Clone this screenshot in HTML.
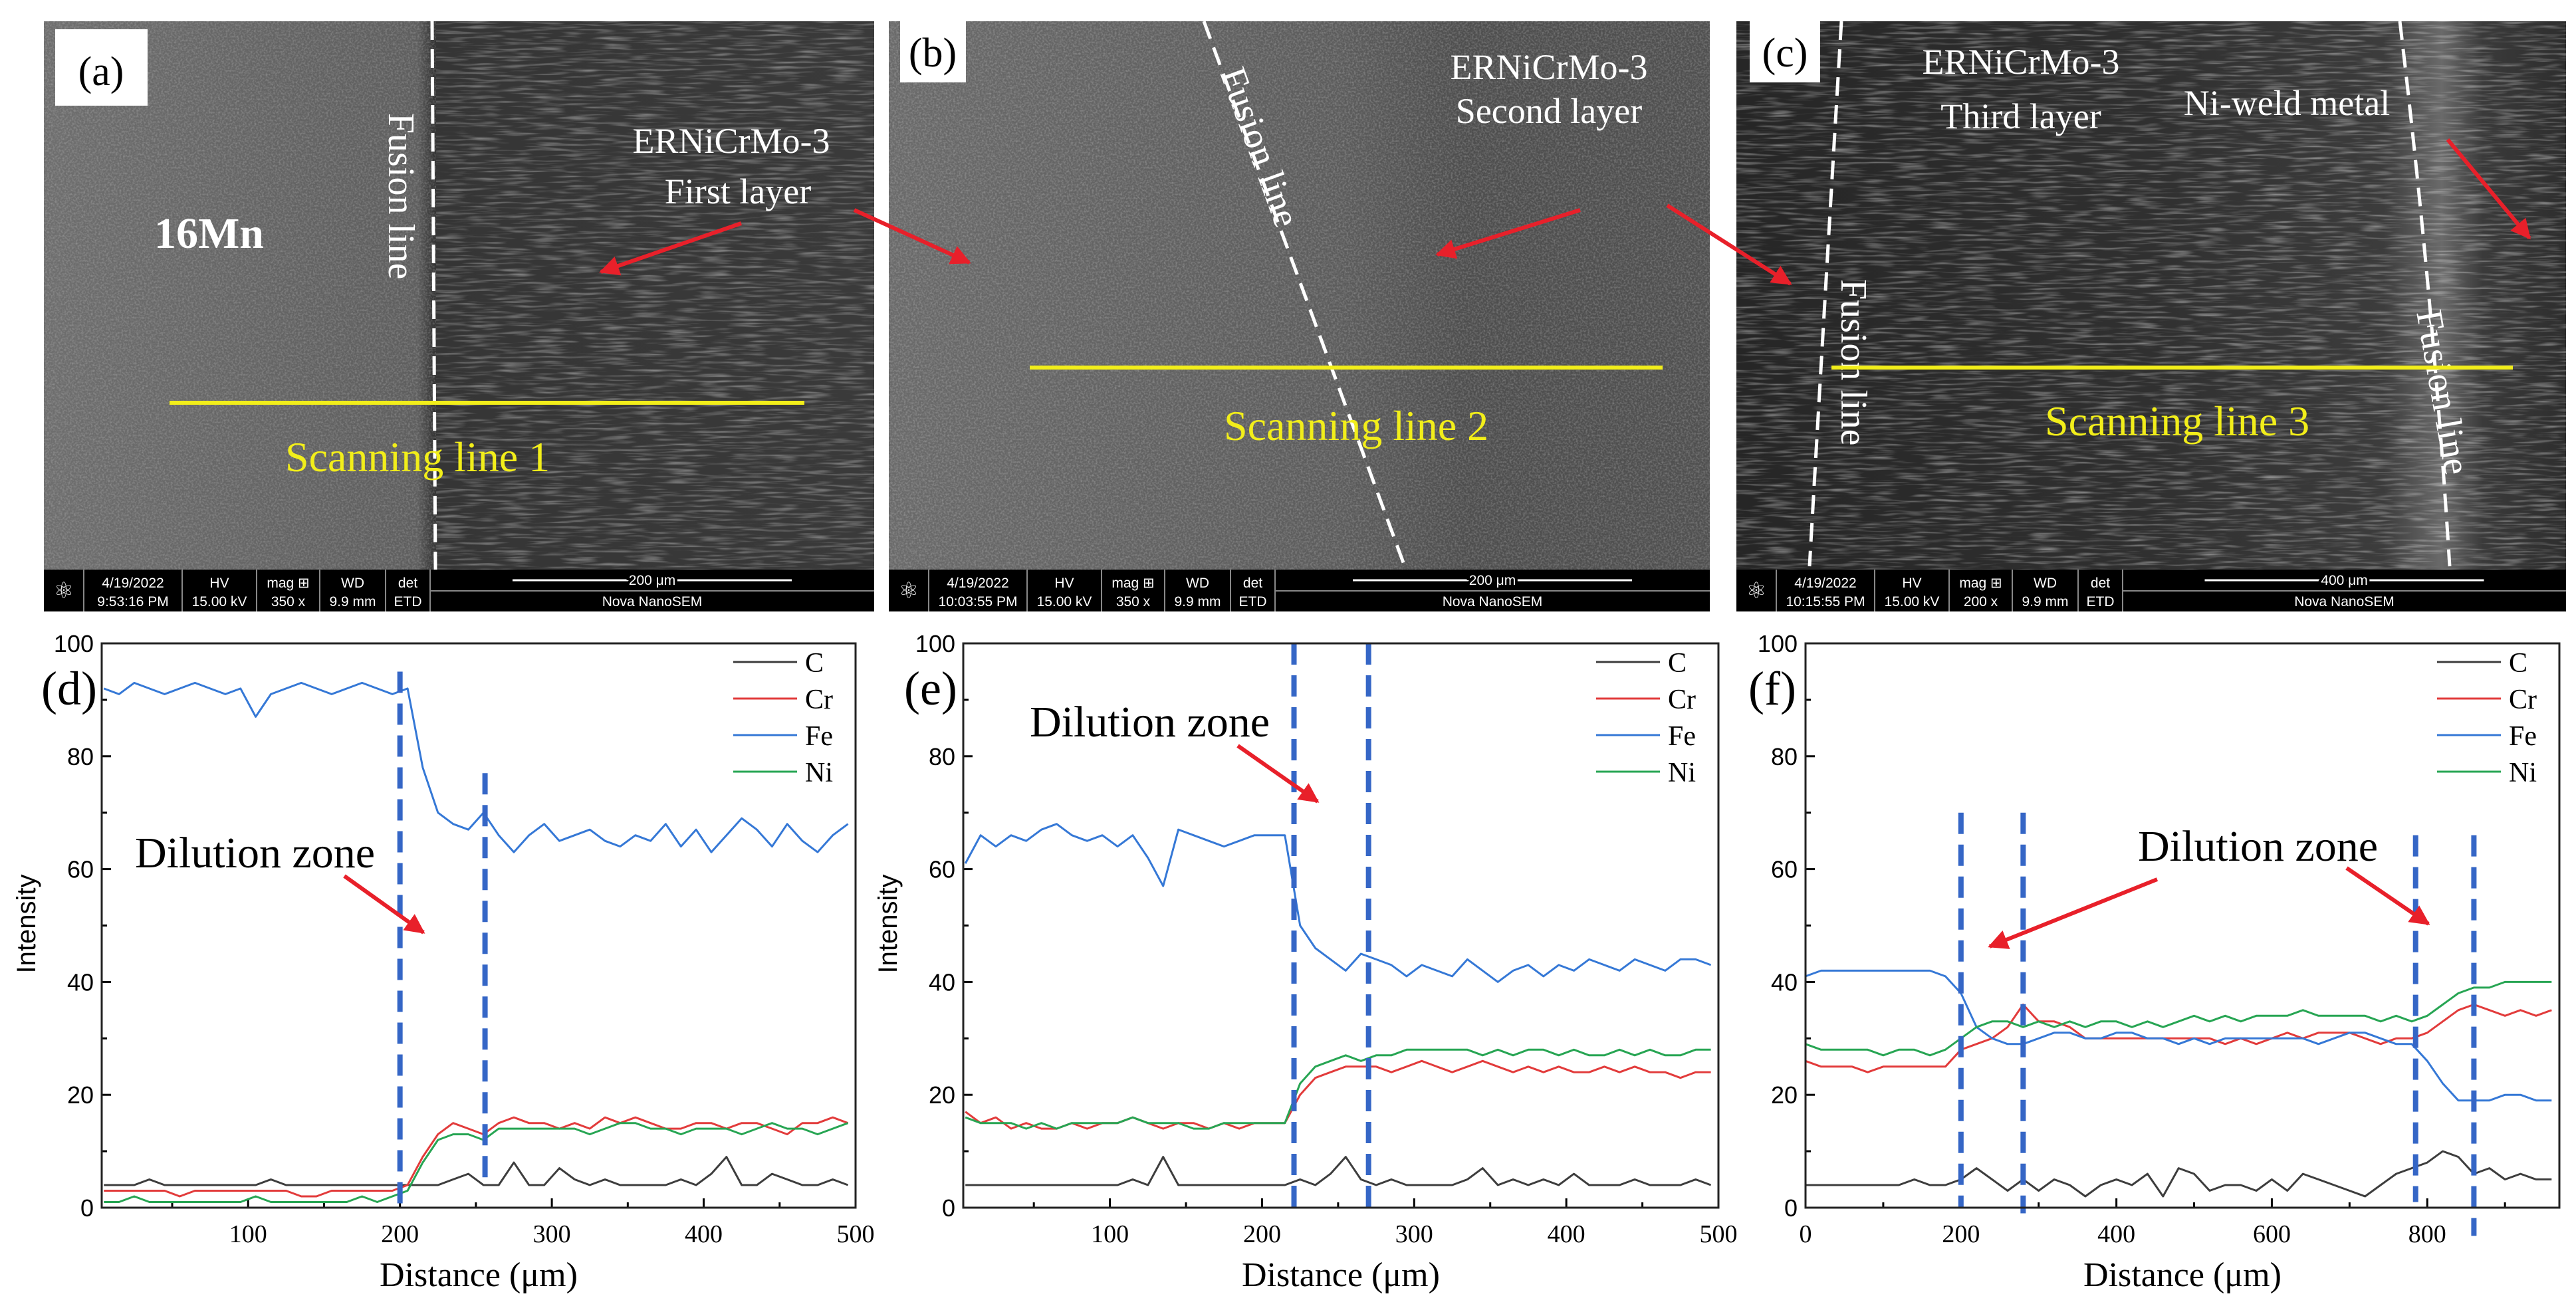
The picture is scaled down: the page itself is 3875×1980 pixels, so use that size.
<!DOCTYPE html>
<html><head><meta charset="utf-8">
<style>
html,body{margin:0;padding:0;background:#fff;}
svg{display:block;}
.serif{font-family:"Liberation Serif",serif;}
.sans{font-family:"Liberation Sans",sans-serif;}
</style></head>
<body>
<svg id="fig" width="3875" height="1980" viewBox="0 0 3875 1980" xmlns="http://www.w3.org/2000/svg">
<defs>
  <filter id="grain" x="0" y="0" width="100%" height="100%">
    <feTurbulence type="fractalNoise" baseFrequency="0.35" numOctaves="2" seed="3"/>
    <feColorMatrix type="matrix" values="0 0 0 0 1  0 0 0 0 1  0 0 0 0 1  0 0 0 0.9 -0.35"/>
  </filter>
  <filter id="streak" x="0" y="0" width="100%" height="100%">
    <feTurbulence type="fractalNoise" baseFrequency="0.02 0.25" numOctaves="2" seed="7"/>
    <feColorMatrix type="matrix" values="0 0 0 0 1  0 0 0 0 1  0 0 0 0 1  0 0 0 1.6 -0.75"/>
  </filter>
  <linearGradient id="gA" x1="0" x2="1" y1="0" y2="0">
    <stop offset="0" stop-color="#6e6e6e"/><stop offset="0.45" stop-color="#5e5e5e"/>
    <stop offset="0.47" stop-color="#353535"/><stop offset="1" stop-color="#3a3a3a"/>
  </linearGradient>
  <linearGradient id="gB" x1="0" x2="1" y1="0" y2="0">
    <stop offset="0" stop-color="#6a6a6a"/><stop offset="0.55" stop-color="#5c5c5c"/>
    <stop offset="0.7" stop-color="#4e4e4e"/><stop offset="1" stop-color="#505050"/>
  </linearGradient>
  <linearGradient id="gC" x1="0" x2="1" y1="0" y2="0">
    <stop offset="0" stop-color="#262626"/><stop offset="0.5" stop-color="#303030"/>
    <stop offset="0.78" stop-color="#3c3c3c"/><stop offset="0.85" stop-color="#6a6a6a"/>
    <stop offset="0.9" stop-color="#3a3a3a"/><stop offset="1" stop-color="#2e2e2e"/>
  </linearGradient>
  <marker id="ah" viewBox="0 0 10 10" refX="9" refY="5" markerWidth="5" markerHeight="5" orient="auto-start-reverse">
    <path d="M0,0 L10,5 L0,10 z" fill="#e8202a"/>
  </marker>
</defs>

<!-- Panel a -->
<g>
  <rect x="66" y="32" width="1249" height="825" fill="url(#gA)"/>
  <rect x="66" y="32" width="590" height="825" filter="url(#grain)" opacity="0.5"/>
  <rect x="656" y="32" width="659" height="825" filter="url(#streak)" opacity="0.55"/>
  <rect x="83" y="44" width="139" height="115" fill="#fff"/>
  <text x="152" y="128" class="serif" font-size="62" text-anchor="middle">(a)</text>
  <line x1="650" y1="32" x2="655" y2="857" stroke="#fff" stroke-width="5" stroke-dasharray="28,14"/>
  <text transform="translate(585,170) rotate(90)" class="serif" font-size="56" fill="#fff">Fusion line</text>
  <text x="232" y="373" class="serif" font-size="66" font-weight="bold" fill="#fff">16Mn</text>
  <text x="1100" y="230" class="serif" font-size="54" fill="#fff" text-anchor="middle">ERNiCrMo-3</text>
  <text x="1110" y="306" class="serif" font-size="54" fill="#fff" text-anchor="middle">First layer</text>
  <line x1="1115" y1="336" x2="904" y2="409" stroke="#e8202a" stroke-width="6" marker-end="url(#ah)"/>
  <line x1="255" y1="606" x2="1210" y2="606" stroke="#f2ee1a" stroke-width="6"/>
  <text x="429" y="709" class="serif" font-size="64" fill="#f2ee1a">Scanning line 1</text>
</g>
<!-- Panel b -->
<g>
  <rect x="1337" y="32" width="1235" height="825" fill="url(#gB)"/>
  <rect x="1337" y="32" width="1235" height="825" filter="url(#grain)" opacity="0.55"/>
  <rect x="1354" y="30" width="99" height="94" fill="#fff"/>
  <text x="1403" y="100" class="serif" font-size="62" text-anchor="middle">(b)</text>
  <line x1="1811" y1="32" x2="2113" y2="852" stroke="#fff" stroke-width="5" stroke-dasharray="28,14"/>
  <text transform="translate(1835,110) rotate(70)" class="serif" font-size="56" fill="#fff">Fusion line</text>
  <text x="2330" y="119" class="serif" font-size="54" fill="#fff" text-anchor="middle">ERNiCrMo-3</text>
  <text x="2330" y="185" class="serif" font-size="54" fill="#fff" text-anchor="middle">Second layer</text>
  <line x1="2377" y1="316" x2="2162" y2="383" stroke="#e8202a" stroke-width="6" marker-end="url(#ah)"/>
  <line x1="1549" y1="553" x2="2501" y2="553" stroke="#f2ee1a" stroke-width="6"/>
  <text x="1841" y="662" class="serif" font-size="64" fill="#f2ee1a">Scanning line 2</text>
</g>
<!-- Panel c -->
<g>
  <rect x="2612" y="32" width="1248" height="825" fill="url(#gC)"/>
  <rect x="2612" y="32" width="1248" height="825" filter="url(#streak)" opacity="0.6"/>
  <rect x="2632" y="30" width="106" height="94" fill="#fff"/>
  <text x="2685" y="100" class="serif" font-size="62" text-anchor="middle">(c)</text>
  <path d="M2770,32 Q2745,450 2722,852" fill="none" stroke="#fff" stroke-width="5" stroke-dasharray="28,14"/>
  <text transform="translate(2770,420) rotate(90)" class="serif" font-size="56" fill="#fff">Fusion line</text>
  <path d="M3610,32 Q3660,450 3685,852" fill="none" stroke="#fff" stroke-width="5" stroke-dasharray="28,14"/>
  <text transform="translate(3635,470) rotate(80)" class="serif" font-size="56" fill="#fff">Fusion line</text>
  <text x="3040" y="111" class="serif" font-size="54" fill="#fff" text-anchor="middle">ERNiCrMo-3</text>
  <text x="3040" y="193" class="serif" font-size="54" fill="#fff" text-anchor="middle">Third layer</text>
  <text x="3440" y="173" class="serif" font-size="54" fill="#fff" text-anchor="middle">Ni-weld metal</text>
  <line x1="3682" y1="210" x2="3805" y2="358" stroke="#e8202a" stroke-width="6" marker-end="url(#ah)"/>
  <line x1="2755" y1="553" x2="3780" y2="553" stroke="#f2ee1a" stroke-width="6"/>
  <text x="3076" y="655" class="serif" font-size="64" fill="#f2ee1a">Scanning line 3</text>
</g>
<line x1="1285" y1="316" x2="1458" y2="395" stroke="#e8202a" stroke-width="6" marker-end="url(#ah)"/>
<line x1="2508" y1="309" x2="2693" y2="427" stroke="#e8202a" stroke-width="6" marker-end="url(#ah)"/>
<g id="infobars"></g>
<g id="charts"></g>
</svg>

<script>
// ---------- chart data ----------
const yTicks = [0, 20, 40, 60, 80, 100];
const dXTicks = [100, 200, 300, 400, 500];
const eXTicks = [100, 200, 300, 400, 500];
const fXTicks = [0, 200, 400, 600, 800];
const legendNames = ["C", "Cr", "Fe", "Ni"];

const dX = [5,15,25,35,45,55,65,75,85,95,105,115,125,135,145,155,165,175,185,195,205,215,225,235,245,255,265,275,285,295,305,315,325,335,345,355,365,375,385,395,405,415,425,435,445,455,465,475,485,495];
const dFe = [92,91,93,92,91,92,93,92,91,92,87,91,92,93,92,91,92,93,92,91,92,78,70,68,67,70,66,63,66,68,65,66,67,65,64,66,65,68,64,67,63,66,69,67,64,68,65,63,66,68];
const dCr = [3,3,3,3,3,2,3,3,3,3,3,3,3,2,2,3,3,3,3,3,4,9,13,15,14,13,15,16,15,15,14,15,14,16,15,16,15,14,14,15,15,14,15,15,14,13,15,15,16,15];
const dNi = [1,1,2,1,1,1,1,1,1,1,2,1,1,1,1,1,1,2,1,2,3,8,12,13,13,12,14,14,14,14,14,14,13,14,15,15,14,14,13,14,14,14,13,14,15,14,14,13,14,15];
const dC = [4,4,4,5,4,4,4,4,4,4,4,5,4,4,4,4,4,4,4,4,4,4,4,5,6,4,4,8,4,4,7,5,4,5,4,4,4,4,5,4,6,9,4,4,6,5,4,4,5,4];
const dDash = [200, 256];

const eX = [5,15,25,35,45,55,65,75,85,95,105,115,125,135,145,155,165,175,185,195,205,215,225,235,245,255,265,275,285,295,305,315,325,335,345,355,365,375,385,395,405,415,425,435,445,455,465,475,485,495];
const eFe = [61,66,64,66,65,67,68,66,65,66,64,66,62,57,67,66,65,64,65,66,66,66,50,46,44,42,45,44,43,41,43,42,41,44,42,40,42,43,41,43,42,44,43,42,44,43,42,44,44,43];
const eCr = [17,15,16,14,15,14,14,15,14,15,15,16,15,14,15,15,14,15,14,15,15,15,20,23,24,25,25,25,24,25,26,25,24,25,26,25,24,25,24,25,24,24,25,24,25,24,24,23,24,24];
const eNi = [16,15,15,15,14,15,14,15,15,15,15,16,15,15,15,14,14,15,15,15,15,15,22,25,26,27,26,27,27,28,28,28,28,28,27,28,27,28,28,27,28,27,27,28,27,28,27,27,28,28];
const eC = [4,4,4,4,4,4,4,4,4,4,4,5,4,9,4,4,4,4,4,4,4,4,5,4,6,9,5,4,5,4,4,4,4,5,7,4,5,4,5,4,6,4,4,4,5,4,4,4,5,4];
const eDash = [221, 270];

const fX = [0,20,40,60,80,100,120,140,160,180,200,220,240,260,280,300,320,340,360,380,400,420,440,460,480,500,520,540,560,580,600,620,640,660,680,700,720,740,760,780,800,820,840,860,880,900,920,940,960];
const fFe = [41,42,42,42,42,42,42,42,42,41,38,32,30,29,29,30,31,31,30,30,31,31,30,30,29,30,29,30,30,30,30,30,30,29,30,31,31,30,29,29,26,22,19,19,19,20,20,19,19];
const fCr = [26,25,25,25,24,25,25,25,25,25,28,29,30,32,36,33,33,32,30,30,30,30,30,30,30,30,30,29,30,29,30,31,30,31,31,31,30,29,30,30,31,33,35,36,35,34,35,34,35];
const fNi = [29,28,28,28,28,27,28,28,27,28,30,32,33,33,32,33,32,33,32,33,33,32,33,32,33,34,33,34,33,34,34,34,35,34,34,34,34,33,34,33,34,36,38,39,39,40,40,40,40];
const fC = [4,4,4,4,4,4,4,5,4,4,5,7,5,3,5,3,5,4,2,4,5,4,6,2,7,6,3,4,4,3,5,3,6,5,4,3,2,4,6,7,8,10,9,6,7,5,6,5,5];
const fDash = [200, 280, 785, 860];

// ---------- layout (not data) ----------
const NS = "http://www.w3.org/2000/svg";
const COLORS = {C:"#3d3d3d", Cr:"#e23b3b", Fe:"#3578d6", Ni:"#27a553"};
const TOP = 968, BOTTOM = 1817;

function mk(tag, attrs, parent){
  const el = document.createElementNS(NS, tag);
  for (const k in attrs) el.setAttribute(k, attrs[k]);
  parent.appendChild(el);
  return el;
}

function drawChart(cfg){
  const root = document.getElementById("charts");
  const g = mk("g", {}, root);
  
  
  const sx = v => cfg.left + (v - cfg.xmin) / (cfg.xmax - cfg.xmin) * (cfg.right - cfg.left);
  const sy = v => BOTTOM - v / 100 * (BOTTOM - TOP);

  // y ticks
  yTicks.forEach(t => {
    const tk = mk("line", {x1:cfg.left, x2:cfg.left+14, y1:sy(t), y2:sy(t), stroke:"#000", "stroke-width":3}, g);
    
    
    if (t < 100) {
      const mn = mk("line", {x1:cfg.left, x2:cfg.left+8, y1:sy(t+10), y2:sy(t+10), stroke:"#000", "stroke-width":3}, g);
      
      
    }
    const lb = mk("text", {x:cfg.left-12, y:sy(t)+13, "text-anchor":"end", "font-size":36, "font-family":"Liberation Sans, sans-serif"}, g);
    lb.textContent = t;
    
    
  });
  // x ticks
  cfg.xTicks.forEach(t => {
    const tk = mk("line", {x1:sx(t), x2:sx(t), y1:BOTTOM, y2:BOTTOM-14, stroke:"#000", "stroke-width":3}, g);
    
    
    const m = t - cfg.minorStep;
    if (m > cfg.xmin) {
      const mn = mk("line", {x1:sx(m), x2:sx(m), y1:BOTTOM, y2:BOTTOM-8, stroke:"#000", "stroke-width":3}, g);
      
      
    }
    const lb = mk("text", {x:sx(t), y:BOTTOM+52, "text-anchor":"middle", "font-size":38, "font-family":"Liberation Serif, serif"}, g);
    lb.textContent = t;
    
    
  });
  const m2 = cfg.xTicks[cfg.xTicks.length-1] + cfg.minorStep;
  if (m2 < cfg.xmax) {
    const mn = mk("line", {x1:sx(m2), x2:sx(m2), y1:BOTTOM, y2:BOTTOM-8, stroke:"#000", "stroke-width":3}, g);
    
    
  }

  // series
  const series = [["C", cfg.C], ["Cr", cfg.Cr], ["Fe", cfg.Fe], ["Ni", cfg.Ni]];
  series.forEach(([name, vals]) => {
    const pts = vals.map((v, i) => sx(cfg.X[i]).toFixed(1) + "," + sy(v).toFixed(1)).join(" ");
    const pl = mk("polyline", {points:pts, fill:"none", stroke:COLORS[name], "stroke-width":3, "stroke-linejoin":"round"}, g);
    
    
  });

  // dashed boundaries
  cfg.dash.forEach((d, i) => {
    const dl = mk("line", {x1:sx(d), x2:sx(d), y1:sy(cfg.dashTop[i]), y2:sy(cfg.dashBot[i]), stroke:"#3566c6", "stroke-width":8, "stroke-dasharray":"32,16"}, g);
    
    
  });

  // frame
  const fr = mk("rect", {x:cfg.left, y:TOP, width:cfg.right-cfg.left, height:BOTTOM-TOP, fill:"none", stroke:"#222", "stroke-width":3}, g);
  
  

  // legend
  legendNames.forEach((n, i) => {
    const y = 996 + i * 55;
    const ll = mk("line", {x1:cfg.right-184, x2:cfg.right-88, y1:y, y2:y, stroke:COLORS[n], "stroke-width":3}, g);
    
    
    const lt = mk("text", {x:cfg.right-76, y:y+15, "font-size":42, "font-family":"Liberation Serif, serif"}, g);
    lt.textContent = n;
    
    
  });

  // panel label
  const pl = mk("text", {x:cfg.labelX, y:1060, "font-size":72, "font-family":"Liberation Serif, serif"}, g);
  pl.textContent = "(" + cfg.id + ")";
  
  

  // axis titles
  const xt = mk("text", {x:(cfg.left+cfg.right)/2, y:1935, "text-anchor":"middle", "font-size":52, "font-family":"Liberation Serif, serif"}, g);
  xt.textContent = "Distance (\u03bcm)";
  
  
  if (cfg.yTitle) {
    const yt = mk("text", {transform:"translate(" + (cfg.left-100) + ",1390) rotate(-90)", "text-anchor":"middle", "font-size":40, "font-family":"Liberation Sans, sans-serif"}, g);
    yt.textContent = "Intensity";
    
    
  }

  // annotation
  const an = mk("text", {x:cfg.ann[0], y:cfg.ann[1], "font-size":66, "font-family":"Liberation Serif, serif"}, g);
  an.textContent = "Dilution zone";
  
  
  cfg.arrows.forEach(a => {
    const ar = mk("line", {x1:a[0], y1:a[1], x2:a[2], y2:a[3], stroke:"#e8202a", "stroke-width":6, "marker-end":"url(#ah)"}, g);
    
    
  });
}

drawChart({id:"d", left:153, right:1287, xmin:3.6, xmax:500, xTicks:dXTicks, minorStep:50,
  X:dX, C:dC, Cr:dCr, Fe:dFe, Ni:dNi, dash:dDash, dashTop:[95, 77], dashBot:[0, 5],
  labelX:62, yTitle:true, ann:[203,1305], arrows:[[518,1318,637,1403]]});
drawChart({id:"e", left:1449, right:2585, xmin:3.6, xmax:500, xTicks:eXTicks, minorStep:50,
  X:eX, C:eC, Cr:eCr, Fe:eFe, Ni:eNi, dash:eDash, dashTop:[100, 100], dashBot:[0, 0],
  labelX:1360, yTitle:true, ann:[1549,1108], arrows:[[1862,1122,1982,1206]]});
drawChart({id:"f", left:2716, right:3850, xmin:0, xmax:970, xTicks:fXTicks, minorStep:100,
  X:fX, C:fC, Cr:fCr, Fe:fFe, Ni:fNi, dash:fDash, dashTop:[70, 70, 66, 66], dashBot:[0, -1, 1, -5],
  labelX:2630, yTitle:false, ann:[3216,1295], arrows:[[3245,1323,2993,1424],[3530,1306,3653,1390]]});

// ---------- SEM info bars ----------
function infoBar(x0, x1, id, date, time, mag, scale){
  const root = document.getElementById("infobars");
  const g = mk("g", {}, root);
  
  
  mk("rect", {x:x0, y:857, width:x1-x0, height:63, fill:"#000"}, g);
  const cols = [60, 148, 112, 95, 99, 67];
  const heads = ["", date, "HV", "mag \u229e", "WD", "det"];
  const vals = ["", time, "15.00 kV", mag, "9.9 mm", "ETD"];
  let x = x0;
  const ic = mk("text", {x:x0+30, y:900, "text-anchor":"middle", "font-size":34, fill:"#fff", "font-family":"DejaVu Sans, sans-serif"}, g);
  ic.textContent = "\u269b";
  cols.forEach((w, i) => {
    if (i > 0) {
      const h = mk("text", {x:x+w/2, y:884, "text-anchor":"middle", "font-size":21, fill:"#fff", "font-family":"Liberation Sans Narrow, Liberation Sans, sans-serif"}, g);
      h.textContent = heads[i];
      const v = mk("text", {x:x+w/2, y:912, "text-anchor":"middle", "font-size":21, fill:"#fff", "font-family":"Liberation Sans Narrow, Liberation Sans, sans-serif"}, g);
      v.textContent = vals[i];
    }
    x += w;
    mk("line", {x1:x, x2:x, y1:857, y2:920, stroke:"#888", "stroke-width":2}, g);
  });
  mk("line", {x1:x, x2:x1, y1:889, y2:889, stroke:"#888", "stroke-width":2}, g);
  const cx = (x + x1) / 2;
  mk("line", {x1:cx-210, x2:cx+210, y1:873, y2:873, stroke:"#fff", "stroke-width":3}, g);
  const st = mk("text", {x:cx, y:880, "text-anchor":"middle", "font-size":21, fill:"#fff", "font-family":"Liberation Sans, sans-serif", stroke:"#000", "stroke-width":8, "paint-order":"stroke"}, g);
  st.textContent = scale;
  const nv = mk("text", {x:cx, y:912, "text-anchor":"middle", "font-size":21, fill:"#fff", "font-family":"Liberation Sans Narrow, Liberation Sans, sans-serif"}, g);
  nv.textContent = "Nova NanoSEM";
}
infoBar(66, 1315, "a", "4/19/2022", "9:53:16 PM", "350 x", "200 \u03bcm");
infoBar(1337, 2572, "b", "4/19/2022", "10:03:55 PM", "350 x", "200 \u03bcm");
infoBar(2612, 3860, "c", "4/19/2022", "10:15:55 PM", "200 x", "400 \u03bcm");
</script>
</body></html>
